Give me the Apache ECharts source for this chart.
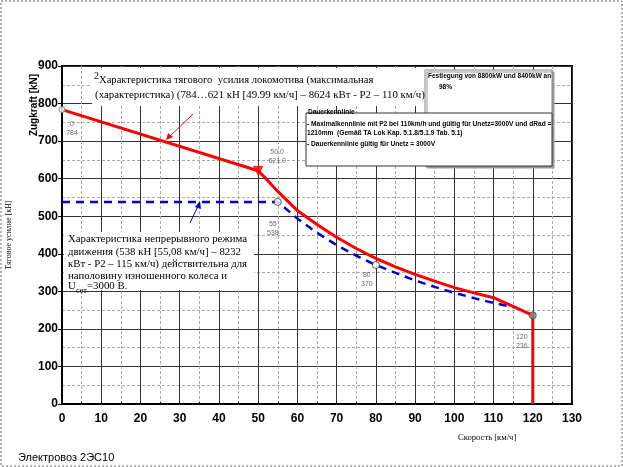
<!DOCTYPE html>
<html>
<head>
<meta charset="utf-8">
<script src="https://cdn.jsdelivr.net/npm/echarts@6/dist/echarts.min.js"></script>
<style>
html,body{margin:0;padding:0;background:#fff;}
#c{width:623px;height:467px;}
</style>
</head>
<body>
<div id="c"></div>
<script>
// ---- data ----
var xTicks = [0,10,20,30,40,50,60,70,80,90,100,110,120,130];
var yTicks = [0,100,200,300,400,500,600,700,800,900];
var maxSpeed = [0,50,52,55,60,65,70,75,80,85,90,95,100,105,110,115,120,120];
var maxForce = [784,621,600,566,515,478,444,414,388,365,345,327,310,296,283,260,236,0];
var contSpeed = [0,55,60,65,70,75,80,85,90,95,100,105,110,115];
var contForce = [538,538,494,456,423,395,370,349,329,312,296,282,269,258];
var ptSpeed = [0,50,55,80,120];
var ptForce = [784,621,538,370,236];
var ptLabels = ['0\n784','50.0\n621.0','55\n538','80\n370','120\n236'];

// ---- styles ----
var ptStyle = [
  {symbol:'circle', size:6, color:'#fff', border:'#777', offset:[10,19]},
  {symbol:'triangle', size:9, color:'#ff0000', border:'#ff0000', offset:[19,-14], rotate:180},
  {symbol:'circle', size:7, color:'#fff', border:'#333', offset:[-5,27]},
  {symbol:'circle', size:7, color:'#fff', border:'#333', offset:[-9,15]},
  {symbol:'circle', size:7, color:'#888', border:'#444', offset:[-11,26]}
];

function pairs(xs, ys){ return xs.map(function(x,i){ return [x, ys[i]]; }); }

var pts = ptSpeed.map(function(x,i){
  var s = ptStyle[i];
  return {
    value:[x, ptForce[i]],
    symbol:s.symbol, symbolSize:s.size, symbolRotate:s.rotate||0,
    itemStyle:{color:s.color, borderColor:s.border, borderWidth:1},
    label:{show:true, position:'inside', offset:s.offset, formatter:ptLabels[i],
      fontSize:7, lineHeight:9, color:'#444', fontFamily:'Liberation Sans'}
  };
});

var chart = echarts.init(document.getElementById('c'));
var axFont = 'Liberation Sans Narrow, Arial Narrow, Liberation Sans';
var serif = 'Liberation Serif, Times New Roman, serif';
var opt = {
  animation:false,
  backgroundColor:'#fff',
  grid:{left:62, right:51, top:66, bottom:63, show:true, borderColor:'#000', borderWidth:2, backgroundColor:'transparent'},
  xAxis:{
    type:'value', min:xTicks[0], max:xTicks[xTicks.length-1], interval:10,
    axisLine:{show:true, lineStyle:{color:'#000', width:2}},
    axisTick:{show:true, inside:true, length:3, lineStyle:{color:'#000'}},
    minorTick:{show:true, splitNumber:2, length:2, lineStyle:{color:'#000'}},
    axisLabel:{fontSize:12, fontWeight:'bold', color:'#000', margin:9, fontFamily:axFont},
    splitLine:{show:true, lineStyle:{color:'#333', width:1}},
    minorSplitLine:{show:true, lineStyle:{color:'#aaa', type:[3,2], width:1}}
  },
  yAxis:{
    type:'value', min:yTicks[0], max:yTicks[yTicks.length-1], interval:100,
    axisLine:{show:true, lineStyle:{color:'#000', width:2}},
    axisTick:{show:true, inside:false, length:4, lineStyle:{color:'#000'}},
    axisLabel:{fontSize:12, fontWeight:'bold', color:'#000', margin:4, fontFamily:axFont},
    splitLine:{show:true, lineStyle:{color:'#333', width:1}},
    minorTick:{show:false, splitNumber:2},
    minorSplitLine:{show:true, lineStyle:{color:'#aaa', type:[3,2], width:1}}
  },
  series:[
    {type:'line', data:pairs(contSpeed, contForce), showSymbol:false, z:3,
      lineStyle:{color:'#0000dd', width:2.5, type:[8,6]}},
    {type:'line', data:pairs(maxSpeed, maxForce), showSymbol:false, z:4,
      lineStyle:{color:'#ff0000', width:3}},
    {type:'scatter', data:pts, z:6}
  ],
  graphic:[
    {type:'rect', shape:{x:1, y:1, width:621, height:465}, style:{fill:'none', stroke:'#666', lineWidth:1, lineDash:[2,2]}, z:1},
    // boxes at upper right
    {type:'rect', shape:{x:425, y:70, width:127, height:96}, style:{fill:'#fff', stroke:'#888', lineWidth:1, shadowColor:'#999', shadowOffsetX:2, shadowOffsetY:2}, z:10},
    {type:'rect', shape:{x:306, y:113, width:246, height:53}, style:{fill:'#fff', stroke:'#333', lineWidth:1}, z:10},
    {type:'text', x:428, y:73, z:11, style:{text:'Festlegung von 8800kW und 8400kW an', font:'bold 6.5px Liberation Sans', fill:'#000'}},
    {type:'text', x:439, y:84, z:11, style:{text:'98%', font:'bold 6.5px Liberation Sans', fill:'#000'}},
    {type:'text', x:308, y:109, z:11, style:{text:'Dauerkennlinie', font:'bold 6.5px Liberation Sans', fill:'#000'}},
    {type:'text', x:307, y:121, z:11, style:{text:'- Maximalkennlinie mit P2 bei 110km/h und gültig für Unetz=3000V und dRad =', font:'bold 6.6px Liberation Sans', fill:'#000'}},
    {type:'text', x:307, y:130, z:11, style:{text:'1210mm  (Gemäß TA Lok Kap. 5.1.8/5.1.9 Tab. 5.1)', font:'bold 6.6px Liberation Sans', fill:'#000'}},
    {type:'text', x:307, y:141, z:11, style:{text:'- Dauerkennlinie gültig für Unetz = 3000V', font:'bold 6.6px Liberation Sans', fill:'#000'}},
    // red annotation
    {type:'rect', shape:{x:92, y:68, width:333, height:38}, style:{fill:'#fff'}, z:8},
    {type:'text', x:94, y:71, z:12, style:{text:'2', font:'10px '+serif, fill:'#000'}},
    {type:'text', x:99, y:75, z:12, style:{text:'Характеристика тягового  усилия локомотива (максимальная', font:'10.6px '+serif, fill:'#000'}},
    {type:'text', x:95, y:90, z:12, style:{text:'(характеристика) (784…621 кН [49.99 км/ч] – 8624 кВт - P2 – 110 км/ч)', font:'10.9px '+serif, fill:'#000'}},
    {type:'line', shape:{x1:193, y1:114, x2:168, y2:138}, style:{stroke:'#ff0000', lineWidth:1}, z:12},
    {type:'polygon', shape:{points:[[166,140],[168,133],[173,137]]}, style:{fill:'#ff0000'}, z:12},
    // blue annotation
    {type:'rect', shape:{x:64, y:232, width:190, height:58}, style:{fill:'#fff'}, z:8},
    {type:'text', x:68, y:234, z:12, style:{text:'Характеристика непрерывного режима', font:'10.8px '+serif, fill:'#000'}},
    {type:'text', x:68, y:247, z:12, style:{text:'движения (538 кН [55,08 км/ч] – 8232', font:'10.8px '+serif, fill:'#000'}},
    {type:'text', x:68, y:259, z:12, style:{text:'кВт - P2 – 115 км/ч) действительна для', font:'10.8px '+serif, fill:'#000'}},
    {type:'text', x:68, y:271, z:12, style:{text:'наполовину изношенного колеса и', font:'10.8px '+serif, fill:'#000'}},
    {type:'text', x:68, y:281, z:12, style:{text:'U', font:'10.8px '+serif, fill:'#000'}},
    {type:'text', x:76, y:287, z:12, style:{text:'сет', font:'8px '+serif, fill:'#000'}},
    {type:'text', x:87, y:281, z:12, style:{text:'=3000 В.', font:'10.8px '+serif, fill:'#000'}},
    {type:'line', shape:{x1:190, y1:223, x2:199, y2:204}, style:{stroke:'#0000dd', lineWidth:1}, z:12},
    {type:'polygon', shape:{points:[[200,201],[195,207],[201,209]]}, style:{fill:'#0000dd'}, z:12},
    // axis names and title
    {type:'text', x:34, y:105, rotation:Math.PI/2, z:12, style:{text:'Zugkraft [kN]', font:'bold 10px Liberation Sans', fill:'#000', textAlign:'center', textVerticalAlign:'middle'}},
    {type:'text', x:9, y:235, rotation:Math.PI/2, z:12, style:{text:'Тяговое усилие [кН]', font:'8px '+serif, fill:'#000', textAlign:'center', textVerticalAlign:'middle'}},
    {type:'text', x:458, y:433, z:12, style:{text:'Скорость [км/ч]', font:'8.6px '+serif, fill:'#000'}},
    {type:'text', x:18, y:452, z:12, style:{text:'Электровоз 2ЭС10', font:'11px Liberation Sans', fill:'#000'}}
  ]
};
chart.setOption(opt);
</script>
</body>
</html>
